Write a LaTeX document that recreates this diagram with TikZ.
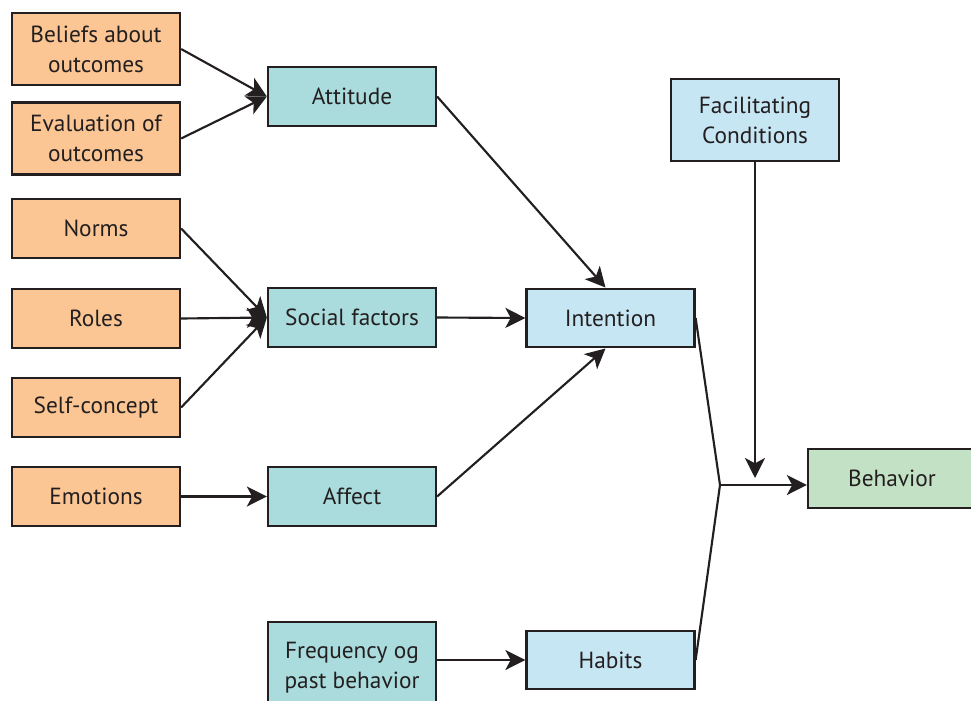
\documentclass[tikz,border=0pt]{standalone}
\usepackage{fontspec}
\setmainfont{PT Sans}
\usetikzlibrary{arrows.meta,calc}
\definecolor{orangefill}{RGB}{251,198,148}
\definecolor{tealfill}{RGB}{171,220,221}
\definecolor{bluefill}{RGB}{199,230,243}
\definecolor{greenfill}{RGB}{195,225,196}
\definecolor{edgecol}{RGB}{35,31,32}
\tikzset{
  box/.style={draw=edgecol, line width=1.7pt, rectangle, inner sep=0pt,
    minimum width=126pt, minimum height=44pt, align=center,
    font=\fontsize{17.5}{22.5}\selectfont, text=edgecol},
  obox/.style={box, fill=orangefill},
  tbox/.style={box, fill=tealfill},
  bbox/.style={box, fill=bluefill},
  gbox/.style={box, fill=greenfill},
  conn/.style={draw=edgecol, line width=1.6pt},
  arr/.style={conn, -{Stealth[length=15pt,width=15pt,inset=4pt]}},
}
\begin{document}
\begin{tikzpicture}[x=0.75pt,y=-0.75pt]
\useasboundingbox (0,0) rectangle (971,700);
\begin{scope}
\clip (0,0) rectangle (971,700);
% left column
\node[obox, minimum height=54pt] (bel) at (96,49) {Beliefs about\\outcomes};
\node[obox, minimum height=54pt] (eva) at (96,138.5) {Evaluation of\\outcomes};
\node[obox] (nor) at (96,228.5) {Norms};
\node[obox] (rol) at (96,318.5) {Roles};
\node[obox] (sel) at (96,407.5) {Self-concept};
\node[obox] (emo) at (96,496.5) {Emotions};
% middle column
\node[tbox] (att) at (352,96.5) {Attitude};
\node[tbox] (soc) at (352,317.5) {Social factors};
\node[tbox] (aff) at (352,496.5) {Affect};
\node[tbox, minimum height=64pt, text depth=0pt] (fre) at (352,665) {Frequency og\\past behavior};
% right part
\node[bbox] (int) at (610.5,318) {Intention};
\node[bbox] (hab) at (610.5,660) {Habits};
\node[bbox, minimum height=61pt] (fac) at (755,120) {Facilitating\\Conditions};
\node[gbox] (beh) at (892,478.5) {Behavior};
\end{scope}
% connectors
\draw[arr] (bel.east) -- (att.west);
\draw[arr] (eva.east) -- (att.west);
\draw[arr] (nor.east) -- (soc.west);
\draw[arr] (rol.east) -- (soc.west);
\draw[arr] (sel.east) -- (soc.west);
\draw[arr] (emo.east) -- (aff.west);
\draw[arr] (att.east) -- ($(int.north)+(-5,0)$);
\draw[arr] (soc.east) -- (int.west);
\draw[arr] (aff.east) -- ($(int.south)+(-5,0)$);
\draw[arr] (fre.east |- hab.west) -- (hab.west);
\coordinate (j) at (720,485);
\draw[conn] (int.east) -- (j) -- (hab.east);
\draw[arr] (j) -- (j -| beh.west);
\coordinate (fe) at (755,478);
\draw[arr] (fac.south) -- (fe);
\end{tikzpicture}
\end{document}
